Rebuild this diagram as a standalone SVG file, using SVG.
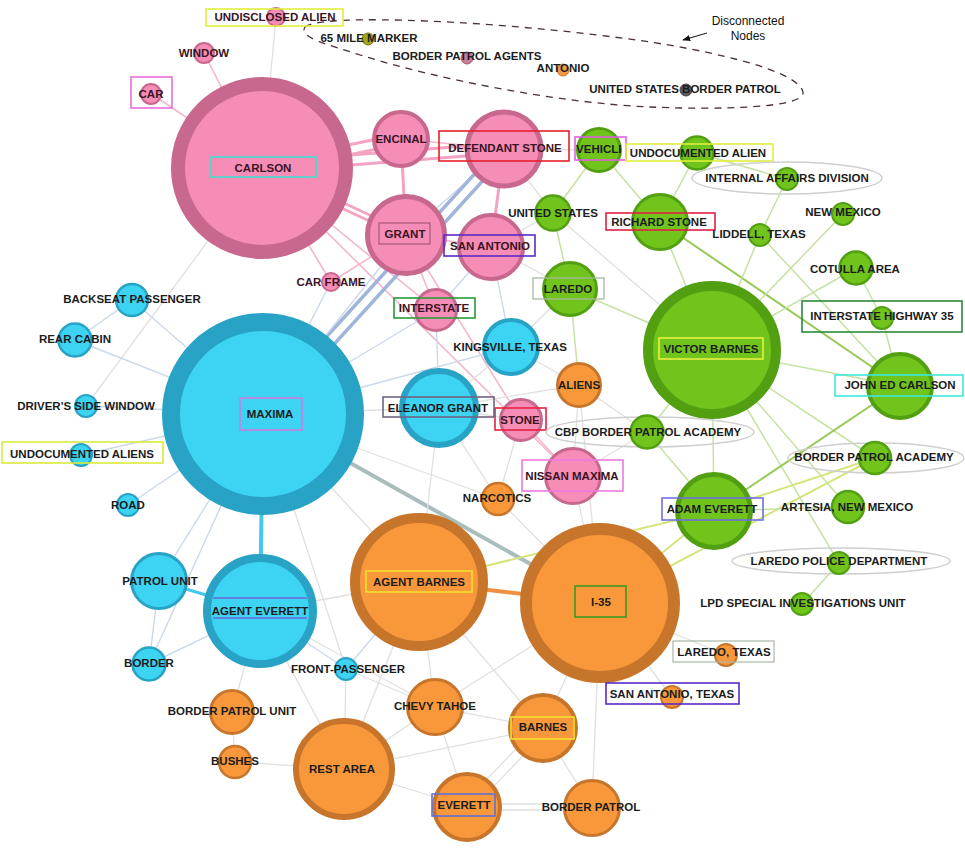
<svg xmlns="http://www.w3.org/2000/svg" width="965" height="848" viewBox="0 0 965 848">
<style>
text{font-family:"Liberation Sans",Arial,sans-serif;font-weight:bold;font-size:11.5px;fill:#1c1c1c;text-anchor:middle}
.note{font-weight:normal;font-size:12px;fill:#111}
.pk circle{fill:#f68db6;stroke:#c8688f}
.cy circle{fill:#3dd3f3;stroke:#28a3c5}
.or circle{fill:#f8983a;stroke:#c8752c}
.gn circle{fill:#70c41c;stroke:#52a012}
.pk text{fill:#3a1424}
.bx{fill:none;stroke-width:1.6}
.oval{fill:none;stroke:#cfcfcf;stroke-width:1.5}
#edges line{stroke-linecap:round}
.ex{stroke:#e0e0e0;stroke-width:1.3}
.eb{stroke:#ccd8eb;stroke-width:1.4}
.ebk{stroke:#9fb5da;stroke-width:3.5}
.ep{stroke:#f4b6cd;stroke-width:1.6}
.epk{stroke:#f4a3c4;stroke-width:3}
.eg{stroke:#c6e2a2;stroke-width:1.5}
.egk{stroke:#97c956;stroke-width:2}
.ey{stroke:#d6e47c;stroke-width:2}
.eok{stroke:#ef8f42;stroke-width:4}
.ext{stroke:#a9bdbd;stroke-width:4}
.ec{stroke:#45c9eb;stroke-width:4}
</style>
<defs>
<marker id="arr" viewBox="0 0 10 10" refX="9" refY="5" markerWidth="8" markerHeight="8" orient="auto"><path d="M0,1 L10,5 L0,9 Z" fill="#111"/></marker>
<clipPath id="vclip"><rect x="575" y="137" width="46" height="23"/></clipPath>
</defs>
<rect width="965" height="848" fill="#ffffff"/>

<g id="disconnected-annotation">
<path d="M305,27 C320,13 500,20 650,42 C740,56 800,75 803,92 C806,108 720,110 650,107 C560,103 440,80 360,55 C330,45 298,38 305,27 Z" fill="none" stroke="#4a3038" stroke-width="1.3" stroke-dasharray="7,6"/>
<text class="note" x="748" y="25">Disconnected</text>
<text class="note" x="748" y="40">Nodes</text>
<line x1="707" y1="33" x2="683" y2="40" stroke="#111" stroke-width="1" marker-end="url(#arr)"/>
</g>

<g id="edges">
<line class="ex" x1="262" y1="168" x2="276" y2="17"/>
<line class="ep" x1="262" y1="168" x2="204" y2="53"/>
<line class="ep" x1="262" y1="168" x2="150" y2="93"/>
<line class="ex" x1="262" y1="168" x2="86" y2="406"/>
<line class="ep" x1="262" y1="168" x2="331" y2="282"/>
<line class="ep" x1="262" y1="168" x2="436" y2="310"/>
<line class="epk" x1="262" y1="163" x2="401" y2="134"/>
<line class="epk" x1="262" y1="173" x2="401" y2="144"/>
<line class="epk" x1="262" y1="162" x2="504" y2="143"/>
<line class="epk" x1="262" y1="172" x2="504" y2="153"/>
<line class="epk" x1="260" y1="164" x2="404" y2="231"/>
<line class="epk" x1="264" y1="172" x2="408" y2="239"/>
<line class="ep" x1="262" y1="168" x2="573" y2="476"/>
<line class="epk" x1="401" y1="139" x2="406" y2="235"/>
<line class="ep" x1="401" y1="139" x2="504" y2="149"/>
<line class="eb" x1="406" y1="235" x2="504" y2="149"/>
<line class="ep" x1="406" y1="235" x2="491" y2="247"/>
<line class="epk" x1="504" y1="149" x2="491" y2="247"/>
<line class="ebk" x1="500" y1="146" x2="259" y2="411"/>
<line class="ebk" x1="508" y1="153" x2="267" y2="418"/>
<line class="ep" x1="406" y1="235" x2="436" y2="310"/>
<line class="ep" x1="406" y1="235" x2="521" y2="420"/>
<line class="ep" x1="521" y1="420" x2="573" y2="476"/>
<line class="eb" x1="406" y1="235" x2="263" y2="414"/>
<line class="ep" x1="406" y1="235" x2="331" y2="282"/>
<line class="eb" x1="491" y1="247" x2="511" y2="347"/>
<line class="eb" x1="491" y1="247" x2="436" y2="310"/>
<line class="ex" x1="504" y1="149" x2="553" y2="213"/>
<line class="ex" x1="504" y1="149" x2="599" y2="150"/>
<line class="ex" x1="491" y1="247" x2="570" y2="289"/>
<line class="ex" x1="491" y1="247" x2="553" y2="213"/>
<line class="eb" x1="436" y1="310" x2="263" y2="414"/>
<line class="eb" x1="436" y1="310" x2="439" y2="408"/>
<line class="eb" x1="263" y1="414" x2="132" y2="300"/>
<line class="eb" x1="263" y1="414" x2="75" y2="340"/>
<line class="eb" x1="263" y1="414" x2="86" y2="406"/>
<line class="eb" x1="263" y1="414" x2="81" y2="455"/>
<line class="eb" x1="263" y1="414" x2="128" y2="505"/>
<line class="eb" x1="263" y1="414" x2="159" y2="581"/>
<line class="eb" x1="263" y1="414" x2="149" y2="664"/>
<line class="eb" x1="263" y1="414" x2="331" y2="282"/>
<line class="eb" x1="263" y1="414" x2="511" y2="347"/>
<line class="ex" x1="263" y1="414" x2="439" y2="408"/>
<line class="ex" x1="263" y1="414" x2="498" y2="499"/>
<line class="ex" x1="263" y1="414" x2="419" y2="582"/>
<line class="ex" x1="263" y1="414" x2="346" y2="669"/>
<line class="ext" x1="263" y1="414" x2="600" y2="603"/>
<line class="ec" x1="263" y1="414" x2="260" y2="611"/>
<line class="eb" x1="132" y1="300" x2="75" y2="340"/>
<line class="ec" x1="159" y1="581" x2="260" y2="611" style="stroke-width:3"/>
<line class="eb" x1="159" y1="581" x2="149" y2="664"/>
<line class="eb" x1="260" y1="611" x2="149" y2="664"/>
<line class="ex" x1="260" y1="611" x2="419" y2="582"/>
<line class="ex" x1="260" y1="611" x2="344" y2="769"/>
<line class="eb" x1="260" y1="611" x2="346" y2="669"/>
<line class="ex" x1="260" y1="611" x2="232" y2="712"/>
<line class="ex" x1="260" y1="611" x2="435" y2="707"/>
<line class="ex" x1="439" y1="408" x2="521" y2="420"/>
<line class="ex" x1="439" y1="408" x2="579" y2="385"/>
<line class="ex" x1="439" y1="408" x2="419" y2="582"/>
<line class="ex" x1="439" y1="408" x2="511" y2="347"/>
<line class="ex" x1="439" y1="408" x2="498" y2="499"/>
<line class="ex" x1="511" y1="347" x2="579" y2="385"/>
<line class="ex" x1="511" y1="347" x2="570" y2="289"/>
<line class="ex" x1="579" y1="385" x2="573" y2="476"/>
<line class="eg" x1="579" y1="385" x2="570" y2="289"/>
<line class="ex" x1="579" y1="385" x2="647" y2="432"/>
<line class="ex" x1="579" y1="385" x2="600" y2="603"/>
<line class="ex" x1="498" y1="499" x2="521" y2="420"/>
<line class="ex" x1="498" y1="499" x2="600" y2="603"/>
<line class="ex" x1="573" y1="476" x2="600" y2="603"/>
<line class="eok" x1="419" y1="582" x2="600" y2="603"/>
<line class="ex" x1="419" y1="582" x2="435" y2="707"/>
<line class="ex" x1="419" y1="582" x2="344" y2="769"/>
<line class="ex" x1="419" y1="582" x2="543" y2="728"/>
<line class="eb" x1="419" y1="582" x2="346" y2="669"/>
<line class="ey" x1="419" y1="582" x2="714" y2="511"/>
<line class="ex" x1="600" y1="603" x2="435" y2="707"/>
<line class="ex" x1="600" y1="603" x2="543" y2="728"/>
<line class="ex" x1="600" y1="603" x2="592" y2="808"/>
<line class="ex" x1="600" y1="603" x2="726" y2="655"/>
<line class="ex" x1="600" y1="603" x2="672" y2="697"/>
<line class="ey" x1="600" y1="603" x2="714" y2="511"/>
<line class="ey" x1="600" y1="603" x2="875" y2="458"/>
<line class="ex" x1="435" y1="707" x2="543" y2="728"/>
<line class="ex" x1="435" y1="707" x2="467" y2="807"/>
<line class="ex" x1="435" y1="707" x2="344" y2="769"/>
<line class="ex" x1="435" y1="707" x2="346" y2="669"/>
<line class="ex" x1="540" y1="724" x2="464" y2="803"/>
<line class="ex" x1="546" y1="732" x2="470" y2="811"/>
<line class="ex" x1="543" y1="728" x2="592" y2="808"/>
<line class="ex" x1="543" y1="728" x2="344" y2="769"/>
<line class="ex" x1="467" y1="804" x2="592" y2="804"/>
<line class="ex" x1="467" y1="810" x2="592" y2="810"/>
<line class="ex" x1="467" y1="807" x2="344" y2="769"/>
<line class="ex" x1="344" y1="769" x2="235" y2="762"/>
<line class="ex" x1="344" y1="769" x2="346" y2="669"/>
<line class="ex" x1="235" y1="762" x2="232" y2="712"/>
<line class="eg" x1="599" y1="150" x2="553" y2="213"/>
<line class="eg" x1="599" y1="150" x2="660" y2="222"/>
<line class="eg" x1="697" y1="153" x2="660" y2="222"/>
<line class="eg" x1="697" y1="153" x2="787" y2="179"/>
<line class="eg" x1="660" y1="222" x2="712" y2="350"/>
<line class="egk" x1="660" y1="222" x2="900" y2="386"/>
<line class="ex" x1="553" y1="213" x2="712" y2="350"/>
<line class="eg" x1="553" y1="213" x2="570" y2="289"/>
<line class="eg" x1="787" y1="179" x2="760" y2="235"/>
<line class="eg" x1="760" y1="235" x2="712" y2="350"/>
<line class="eg" x1="760" y1="235" x2="900" y2="386"/>
<line class="eg" x1="843" y1="214" x2="712" y2="350"/>
<line class="eg" x1="856" y1="268" x2="712" y2="350"/>
<line class="eg" x1="856" y1="268" x2="882" y2="318"/>
<line class="eg" x1="882" y1="318" x2="900" y2="386"/>
<line class="eg" x1="712" y1="350" x2="900" y2="386"/>
<line class="eg" x1="570" y1="289" x2="712" y2="350"/>
<line class="eg" x1="712" y1="350" x2="714" y2="511"/>
<line class="eg" x1="712" y1="350" x2="848" y2="507"/>
<line class="eg" x1="712" y1="350" x2="839" y2="563"/>
<line class="eg" x1="712" y1="350" x2="647" y2="432"/>
<line class="eg" x1="712" y1="350" x2="875" y2="458"/>
<line class="egk" x1="900" y1="386" x2="714" y2="511"/>
<line class="ey" x1="714" y1="511" x2="875" y2="458"/>
<line class="eg" x1="714" y1="511" x2="848" y2="507"/>
<line class="eg" x1="714" y1="511" x2="647" y2="432"/>
<line class="eg" x1="839" y1="563" x2="802" y2="604"/>
<line class="ex" x1="647" y1="432" x2="573" y2="476"/>
</g>

<g id="undisclosed-alien" class="pk"><circle cx="276" cy="17" r="9" stroke-width="2"/><rect class="bx" x="206" y="9" width="137" height="17" stroke="#e2ef3c"/><text x="275" y="21">UNDISCLOSED ALIEN</text></g>
<g id="window" class="pk"><circle cx="204" cy="53" r="10" stroke-width="2"/><text x="204" y="57">WINDOW</text></g>
<g id="car" class="pk"><circle cx="151" cy="94" r="10" stroke-width="2"/><rect class="bx" x="131" y="77" width="41" height="31" stroke="#ea6ddc"/><text x="151" y="98">CAR</text></g>
<g id="carlson" class="pk"><circle cx="262" cy="168" r="84" stroke-width="14"/><rect class="bx" x="211" y="157" width="105" height="20" stroke="#3ee0d2"/><text x="263" y="172">CARLSON</text></g>
<g id="encinal" class="pk"><circle cx="401" cy="139" r="27" stroke-width="4"/><text x="401" y="143">ENCINAL</text></g>
<g id="defendant-stone" class="pk"><circle cx="504" cy="149" r="37" stroke-width="5"/><rect class="bx" x="439" y="131" width="130" height="30" stroke="#e8202a"/><text x="505" y="152">DEFENDANT STONE</text></g>
<g id="grant" class="pk"><circle cx="406" cy="235" r="38.5" stroke-width="5"/><rect class="bx" x="379" y="223" width="51" height="21" stroke="#a8587a" style="stroke-width:1.2"/><text x="405" y="238">GRANT</text></g>
<g id="san-antonio" class="pk"><circle cx="491" cy="247" r="32" stroke-width="4"/><rect class="bx" x="444" y="235" width="91" height="21" stroke="#5a2ac8"/><text x="490" y="250">SAN ANTONIO</text></g>
<g id="car-frame" class="pk"><circle cx="331" cy="282" r="9" stroke-width="2"/><text x="331" y="286">CAR FRAME</text></g>
<g id="interstate" class="pk"><circle cx="436" cy="310" r="20.5" stroke-width="3"/><rect class="bx" x="394" y="298" width="81" height="20" stroke="#2a9a3a"/><text x="434" y="312">INTERSTATE</text></g>
<g id="stone" class="pk"><circle cx="521" cy="420" r="20.5" stroke-width="3"/><rect class="bx" x="495" y="408" width="51" height="22" stroke="#e82045"/><text x="520" y="424">STONE</text></g>
<g id="nissan-maxima" class="pk"><circle cx="573" cy="476" r="27.5" stroke-width="3"/><rect class="bx" x="522" y="460" width="101" height="31" stroke="#ee7ae0"/><text x="572" y="480">NISSAN MAXIMA</text></g>

<g id="maxima" class="cy"><circle cx="263" cy="414" r="92" stroke-width="18"/><rect class="bx" x="240" y="398" width="62" height="32" stroke="#d27be2"/><text x="270" y="418">MAXIMA</text></g>
<g id="backseat-passenger" class="cy"><circle cx="132" cy="300" r="16" stroke-width="2.5"/><text x="132" y="303">BACKSEAT PASSENGER</text></g>
<g id="rear-cabin" class="cy"><circle cx="75" cy="340" r="16.5" stroke-width="2.5"/><text x="75" y="343">REAR CABIN</text></g>
<g id="drivers-side-window" class="cy"><circle cx="86" cy="406" r="11" stroke-width="2"/><text x="86" y="410">DRIVER'S SIDE WINDOW</text></g>
<g id="undocumented-aliens" class="cy"><circle cx="81" cy="455" r="11" stroke-width="2"/><rect class="bx" x="2" y="442" width="161" height="21" stroke="#d8ec3a"/><text x="82" y="458">UNDOCUMENTED ALIENS</text></g>
<g id="road" class="cy"><circle cx="128" cy="505" r="11" stroke-width="2"/><text x="128" y="509">ROAD</text></g>
<g id="patrol-unit" class="cy"><circle cx="159" cy="581" r="27.5" stroke-width="3"/><text x="160" y="585">PATROL UNIT</text></g>
<g id="agent-everett" class="cy"><circle cx="260" cy="611" r="53" stroke-width="8"/><line x1="213" y1="598" x2="307" y2="598" stroke="#6a66d8" stroke-width="1.5"/><line x1="213" y1="618" x2="307" y2="618" stroke="#6a66d8" stroke-width="1.5"/><text x="260" y="615">AGENT EVERETT</text></g>
<g id="border" class="cy"><circle cx="149" cy="664" r="16.5" stroke-width="2.5"/><text x="149" y="667">BORDER</text></g>
<g id="front-passenger" class="cy"><circle cx="346" cy="669" r="11" stroke-width="2"/><text x="348" y="673">FRONT-PASSENGER</text></g>
<g id="kingsville-texas" class="cy"><circle cx="511" cy="347" r="27" stroke-width="4"/><text x="510" y="351">KINGSVILLE, TEXAS</text></g>
<g id="eleanor-grant" class="cy"><circle cx="439" cy="408" r="37" stroke-width="6"/><rect class="bx" x="383" y="397" width="111" height="20" stroke="#706482"/><text x="438" y="412">ELEANOR GRANT</text></g>

<g id="aliens" class="or"><circle cx="579" cy="385" r="21.5" stroke-width="3"/><text x="579" y="389">ALIENS</text></g>
<g id="narcotics" class="or"><circle cx="498" cy="499" r="16" stroke-width="2.5"/><text x="497" y="502">NARCOTICS</text></g>
<g id="agent-barnes" class="or"><circle cx="419" cy="582" r="64" stroke-width="10"/><rect class="bx" x="366" y="571" width="106" height="21" stroke="#f0e030"/><text x="419" y="586">AGENT BARNES</text></g>
<g id="i-35" class="or"><circle cx="600" cy="603" r="74" stroke-width="12"/><rect class="bx" x="575" y="586" width="51" height="31" stroke="#3a9a20"/><text x="601" y="606">I-35</text></g>
<g id="chevy-tahoe" class="or"><circle cx="435" cy="707" r="27.5" stroke-width="3"/><text x="435" y="710">CHEVY TAHOE</text></g>
<g id="barnes" class="or"><circle cx="543" cy="728" r="33" stroke-width="4"/><rect class="bx" x="511" y="717" width="63" height="22" stroke="#f0e030"/><text x="543" y="731">BARNES</text></g>
<g id="rest-area" class="or"><circle cx="344" cy="769" r="48" stroke-width="6"/><text x="342" y="773">REST AREA</text></g>
<g id="everett" class="or"><circle cx="467" cy="807" r="33" stroke-width="4"/><rect class="bx" x="432" y="794" width="63" height="22" stroke="#6070d8"/><text x="464" y="809">EVERETT</text></g>
<g id="border-patrol" class="or"><circle cx="592" cy="808" r="27.5" stroke-width="3"/><text x="591" y="811">BORDER PATROL</text></g>
<g id="border-patrol-unit" class="or"><circle cx="232" cy="712" r="21.5" stroke-width="3"/><text x="232" y="715">BORDER PATROL UNIT</text></g>
<g id="bushes" class="or"><circle cx="235" cy="762" r="16" stroke-width="2.5"/><text x="235" y="765">BUSHES</text></g>
<g id="laredo-texas" class="or"><circle cx="726" cy="655" r="11" stroke-width="2"/><rect class="bx" x="673" y="641" width="101" height="21" stroke="#a8b8a8" style="stroke-width:1.2"/><text x="724" y="656">LAREDO, TEXAS</text></g>
<g id="san-antonio-texas" class="or"><circle cx="672" cy="697" r="11" stroke-width="2"/><rect class="bx" x="606" y="683" width="133" height="21" stroke="#5a2ac8"/><text x="672" y="698">SAN ANTONIO, TEXAS</text></g>

<g id="vehicle" class="gn"><circle cx="599" cy="150" r="21.5" stroke-width="3"/><rect class="bx" x="575" y="137" width="51" height="23" stroke="#e060e0"/><text x="601" y="153" clip-path="url(#vclip)">VEHICLE</text></g>
<g id="undocumented-alien" class="gn"><circle cx="697" cy="153" r="16.5" stroke-width="2.5"/><rect class="bx" x="626" y="144" width="147" height="17" stroke="#e2ef3c"/><text x="698" y="157">UNDOCUMENTED ALIEN</text></g>
<g id="internal-affairs-division" class="gn"><ellipse class="oval" cx="787" cy="178" rx="95" ry="16"/><circle cx="787" cy="179" r="11" stroke-width="2"/><text x="787" y="182">INTERNAL AFFAIRS DIVISION</text></g>
<g id="richard-stone" class="gn"><circle cx="660" cy="222" r="27.5" stroke-width="3"/><rect class="bx" x="606" y="213" width="109" height="17" stroke="#e02045"/><text x="659" y="226">RICHARD STONE</text></g>
<g id="united-states" class="gn"><circle cx="553" cy="213" r="17.5" stroke-width="2.5"/><text x="553" y="217">UNITED STATES</text></g>
<g id="liddell-texas" class="gn"><circle cx="760" cy="235" r="11" stroke-width="2"/><text x="759" y="238">LIDDELL, TEXAS</text></g>
<g id="new-mexico" class="gn"><circle cx="843" cy="214" r="11" stroke-width="2"/><text x="843" y="216">NEW MEXICO</text></g>
<g id="cotulla-area" class="gn"><circle cx="856" cy="268" r="16.5" stroke-width="2.5"/><text x="855" y="273">COTULLA AREA</text></g>
<g id="interstate-highway-35" class="gn"><circle cx="882" cy="318" r="11" stroke-width="2"/><rect class="bx" x="802" y="301" width="160" height="31" stroke="#2a8a3a"/><text x="882" y="320">INTERSTATE HIGHWAY 35</text></g>
<g id="laredo" class="gn"><circle cx="570" cy="289" r="26.5" stroke-width="3"/><rect class="bx" x="533" y="278" width="71" height="21" stroke="#a8b8a0" style="stroke-width:1.3"/><text x="568" y="293">LAREDO</text></g>
<g id="victor-barnes" class="gn"><circle cx="712" cy="350" r="64" stroke-width="10"/><rect class="bx" x="659" y="338" width="104" height="21" stroke="#e8f040"/><text x="711" y="353">VICTOR BARNES</text></g>
<g id="john-ed-carlson" class="gn"><circle cx="900" cy="386" r="32" stroke-width="4"/><rect class="bx" x="835" y="375" width="128" height="21" stroke="#40e8e0"/><text x="900" y="389">JOHN ED CARLSON</text></g>
<g id="cbp-border-patrol-academy" class="gn"><ellipse class="oval" cx="650" cy="432" rx="104" ry="15"/><circle cx="647" cy="432" r="16.5" stroke-width="2.5"/><text x="648" y="436">CBP BORDER PATROL ACADEMY</text></g>
<g id="border-patrol-academy" class="gn"><ellipse class="oval" cx="876" cy="458" rx="88" ry="15"/><circle cx="875" cy="458" r="16" stroke-width="2.5"/><text x="874" y="461">BORDER PATROL ACADEMY</text></g>
<g id="adam-everett" class="gn"><circle cx="714" cy="511" r="36.5" stroke-width="5"/><rect class="bx" x="662" y="498" width="101" height="22" stroke="#7070e0"/><text x="712" y="513">ADAM EVERETT</text></g>
<g id="artesia-new-mexico" class="gn"><circle cx="848" cy="507" r="16" stroke-width="2.5"/><text x="847" y="511">ARTESIA, NEW MEXICO</text></g>
<g id="laredo-police-department" class="gn"><ellipse class="oval" cx="841" cy="561" rx="109" ry="13"/><circle cx="839" cy="563" r="11" stroke-width="2"/><text x="839" y="565">LAREDO POLICE DEPARTMENT</text></g>
<g id="lpd-special-investigations-unit" class="gn"><circle cx="802" cy="604" r="11" stroke-width="2"/><text x="803" y="607">LPD SPECIAL INVESTIGATIONS UNIT</text></g>

<g id="65-mile-marker"><circle cx="368" cy="39" r="6" fill="#a3a21c" stroke="#7a7a10" stroke-width="1"/><text x="369" y="42">65 MILE MARKER</text></g>
<g id="border-patrol-agents"><circle cx="467" cy="58" r="6" fill="#c97b99" stroke="#a85a7a" stroke-width="1"/><text x="467" y="60">BORDER PATROL AGENTS</text></g>
<g id="antonio"><circle cx="563" cy="70" r="6" fill="#f09a48" stroke="#c8752c" stroke-width="1"/><text x="563" y="72">ANTONIO</text></g>
<g id="united-states-border-patrol"><circle cx="686" cy="90" r="6" fill="#5a5a5a" stroke="#444" stroke-width="1"/><text x="685" y="93">UNITED STATES BORDER PATROL</text></g>
</svg>
